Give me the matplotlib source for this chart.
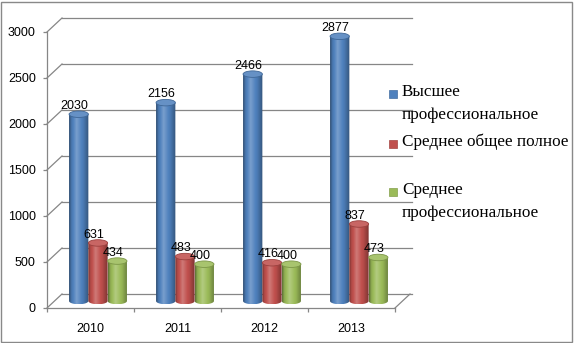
import numpy as np
import matplotlib
matplotlib.use('Agg')
import matplotlib.pyplot as plt
from matplotlib.patches import Rectangle, Ellipse
from matplotlib.path import Path
from matplotlib.colors import to_rgb

# data
years = ['2010', '2011', '2012', '2013']
higher_prof = [2030, 2156, 2466, 2877]
secondary_general = [631, 483, 416, 837]
secondary_prof = [434, 400, 400, 473]
series_names = ['Высшее\nпрофессиональное', 'Среднее общее полное', 'Среднее\nпрофессиональное']
series_colors = ['#4F81BD', '#C0504D', '#9BBB59']
y_ticks = [0, 500, 1000, 1500, 2000, 2500, 3000]

W, H = 574, 343
fig = plt.figure(figsize=(W / 100, H / 100), dpi=100)

# front plane of the fake 3d box (pixels, y from top)
left, right, top, bottom = 47, 395, 32, 308
ax = fig.add_axes([left / W, (H - bottom) / H, (right - left) / W, (bottom - top) / H])
ax.set_xlim(-0.5, 3.5)
ax.set_ylim(0, 3000)

# depth of the box, px -> data units
px_x = 4 / (right - left)
px_y = 3000 / (bottom - top)
dx, dy = 15 * px_x, 14 * px_y
grid_col = '#868686'

# back wall gridlines and side diagonals
for v in y_ticks:
    ax.plot([-0.5 + dx, 3.5 + dx + 2 * px_x], [v + dy, v + dy], color=grid_col, lw=0.9, clip_on=False, zorder=1)
    ax.plot([-0.5, -0.5 + dx], [v, v + dy], color=grid_col, lw=0.9, clip_on=False, zorder=1)
ax.plot([3.5, 3.5 + dx], [0, dy], color=grid_col, lw=0.9, clip_on=False, zorder=1)


def shade(c, k):
    rgb = np.array(to_rgb(c))
    if k <= 1:
        return rgb * k
    return rgb + (1 - rgb) * min(1, (k - 1) * 1.6)


def cylinder(xc, val, color, w, eh):
    base = dy / 2
    topv = base + val
    x0 = xc - w / 2
    a = np.linspace(np.pi, 2 * np.pi, 40)
    verts = [(x0, topv)] + [(xc + w / 2 * np.cos(t), base + eh / 2 * np.sin(t)) for t in a]
    verts += [(x0 + w, topv), (x0, topv)]
    codes = [Path.MOVETO] + [Path.LINETO] * (len(verts) - 2) + [Path.CLOSEPOLY]
    sil = Path(verts, codes)
    t = np.linspace(0, 1, 60)
    k = np.interp(t, [0, 0.12, 0.38, 0.72, 1], [0.6, 0.92, 1.15, 0.95, 0.65])
    img = np.array([[shade(color, kk) for kk in k]])
    im = ax.imshow(img, extent=(x0, x0 + w, base - eh / 2, topv), aspect='auto',
                   interpolation='bilinear', zorder=3)
    im.set_clip_path(sil, ax.transData)
    ax.add_patch(Ellipse((xc, topv), w, eh, facecolor=shade(color, 1.08),
                         edgecolor=shade(color, 0.8), lw=0.6, zorder=4))
    ax.annotate(str(val), (xc, topv + eh / 2), xytext=(-3, 1.5), textcoords='offset points',
                ha='center', va='baseline', fontsize=9, family='Liberation Sans', zorder=5,
                annotation_clip=False)


bar_w = 19.3 / 87
eh = 6.5 * px_y
series = [higher_prof, secondary_general, secondary_prof]
x = np.arange(len(years))
for j in range(len(years)):
    for i, vals in enumerate(series):
        cylinder(x[j] + dx / 2 + (i - 1) * bar_w, vals[j], series_colors[i], bar_w, eh)

ax.set_xlim(-0.5, 3.5)
ax.set_ylim(0, 3000)

for s in ['top', 'right']:
    ax.spines[s].set_visible(False)
for s in ['left', 'bottom']:
    ax.spines[s].set_color(grid_col)
    ax.spines[s].set_linewidth(0.9)

ax.set_yticks(y_ticks)
ax.set_yticklabels([str(v) for v in y_ticks], fontsize=9, family='Liberation Sans')
ax.tick_params(axis='y', length=3, width=0.9, color=grid_col, pad=5)
ax.set_xticks(x)
ax.set_xticklabels(years, fontsize=9, family='Liberation Sans')
ax.tick_params(axis='x', which='major', length=0, pad=10.5)
ax.set_xticks(np.arange(-0.5, 4, 1), minor=True)
ax.tick_params(axis='x', which='minor', length=3, width=0.9, color=grid_col)
ax.patch.set_visible(False)

# legend drawn by hand to match the original placement
leg_y = [94, 144, 192]
for name, col, yy in zip(series_names, series_colors, leg_y):
    fig.add_artist(Rectangle((389 / W, (H - yy - 4) / H), 8 / W, 8 / H, transform=fig.transFigure,
                             facecolor=col, edgecolor=shade(col, 0.85), lw=0.5))
    fig.text(402 / W, (H - yy + 10) / H, name, fontsize=12.3, family='Liberation Serif',
             va='top', ha='left', linespacing=1.62, transform=fig.transFigure)

# outer frame
fig.add_artist(Rectangle((1 / W, 1 / H), (W - 3) / W, (H - 3) / H, transform=fig.transFigure,
                         fill=False, edgecolor='#898989', lw=1))

fig.savefig('out.png', dpi=100)
